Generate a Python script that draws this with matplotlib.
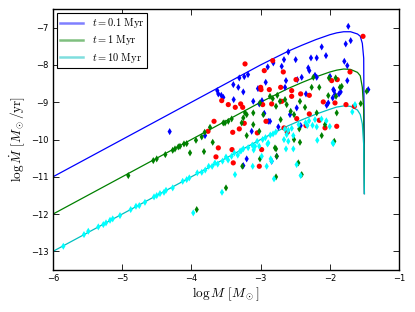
import matplotlib
matplotlib.use("Agg")
import matplotlib.pyplot as plt

plt.rcParams['mathtext.fontset'] = 'cm'

# ---- model curves ----
line_x = [-6.0, -3.0, -2.6, -2.4, -2.2, -2.0, -1.9, -1.8, -1.7, -1.6, -1.56, -1.53, -1.51, -1.50]
line_blue = [-11.0, -8.0, -7.63, -7.47, -7.32, -7.19, -7.14, -7.11, -7.11, -7.17, -7.23, -7.42, -7.82, -11.45]
line_green = [-12.0, -9.0, -8.63, -8.47, -8.32, -8.19, -8.14, -8.11, -8.12, -8.20, -8.29, -8.60, -9.20, -11.45]
line_cyan = [-13.0, -10.0, -9.63, -9.47, -9.32, -9.19, -9.13, -9.10, -9.11, -9.21, -9.33, -9.58, -10.15, -11.45]
labels = [r'$t=0.1\ \mathrm{Myr}$', r'$t=1\ \mathrm{Myr}$', r'$t=10\ \mathrm{Myr}$']

# ---- observed points ----
blue_x = [-4.314, -3.626, -3.611, -3.568, -3.539, -3.394, -3.322, -3.308, -3.250, -3.236, -3.182, -3.389,
          -3.106, -3.019, -2.980, -2.926, -2.897, -2.816, -2.947, -2.889, -3.038, -2.117, -2.600, -2.662,
          -2.695, -2.493, -2.272, -2.189, -2.055, -2.311, -2.296, -2.406, -2.470, -2.189, -2.214, -2.633,
          -2.647, -1.925, -1.958, -2.344, -1.949, -1.843, -2.022, -2.045, -2.478, -2.575, -1.733, -1.698,
          -1.770, -1.790, -1.747, -1.747, -1.939, -1.867, -1.444, -1.997, -3.803, -3.129, -2.864, -3.201,
          -2.840, -2.744, -2.421, -3.250, -2.767]
blue_y = [-9.788, -8.689, -8.777, -8.815, -8.869, -8.528, -8.601, -8.349, -8.724, -8.314, -8.260, -8.930,
          -8.976, -9.046, -8.957, -8.466, -8.054, -7.946, -9.298, -9.512, -8.635, -7.517, -7.651, -7.858,
          -8.038, -7.858, -7.812, -7.812, -7.751, -8.080, -8.153, -8.332, -8.394, -8.332, -8.279, -8.421,
          -8.601, -8.796, -8.885, -8.777, -8.662, -8.724, -9.019, -9.083, -9.153, -9.332, -6.965, -7.349,
          -7.437, -7.903, -8.019, -8.421, -8.689, -8.777, -8.662, -8.306, -9.895, -9.780, -9.512, -10.520,
          -10.584, -9.662, -9.627, -10.700, -10.450]

red_x = [-3.225, -2.947, -2.999, -2.994, -2.874, -3.562, -3.467, -3.366, -3.288, -3.259, -2.970, -3.673,
         -3.236, -2.840, -2.825, -2.672, -2.488, -1.973, -1.892, -2.710, -2.551, -2.551, -2.421, -2.296,
         -2.094, -1.925, -2.695, -2.296, -2.478, -1.520, -1.708, -1.766, -1.646, -1.900, -3.403, -3.308,
         -3.048, -2.922, -3.611, -3.413, -3.645, -3.395, -2.985, -3.019, -2.662, -2.614, -2.344, -2.069,
         -2.152, -3.760]
red_y = [-7.973, -8.153, -8.601, -8.662, -8.662, -8.957, -9.064, -9.137, -9.046, -9.137, -9.064, -9.512,
         -9.566, -9.046, -7.885, -8.188, -8.394, -8.421, -8.394, -8.601, -8.689, -8.842, -8.777, -8.815,
         -8.992, -9.019, -8.976, -9.314, -9.440, -7.233, -8.188, -9.064, -9.110, -9.646, -9.807, -9.716,
         -9.823, -9.512, -10.225, -10.271, -10.466, -10.627, -10.271, -10.718, -9.689, -9.807, -9.627, -9.689,
         -9.485, -9.780]

green_x = [-4.912, -4.551, -4.501, -4.377, -4.270, -4.237, -4.189, -4.165, -4.107, -4.068, -4.020, -3.934,
           -3.851, -3.818, -3.808, -3.923, -2.825, -3.106, -2.961, -3.201, -2.238, -2.012, -2.262, -2.152,
           -2.022, -1.853, -2.759, -2.720, -2.623, -2.647, -2.777, -2.358, -2.431, -2.565, -2.517, -2.189,
           -1.900, -2.710, -1.828, -1.910, -1.553, -1.467, -1.915, -1.935, -3.514, -3.273, -3.201, -3.106,
           -3.019, -3.264, -3.009, -2.792, -3.500, -3.692, -2.441, -2.517, -2.431, -2.777, -2.767, -2.455,
           -2.406, -2.777, -2.117, -2.069, -3.731, -3.539, -3.467, -3.418, -3.250, -3.225, -3.009, -2.864]
green_y = [-10.968, -10.566, -10.520, -10.405, -10.290, -10.252, -10.198, -10.182, -10.118, -10.110, -10.359, -10.021,
           -9.930, -10.324, -9.807, -11.879, -8.903, -9.287, -9.332, -9.332, -8.332, -8.349, -8.601, -8.601,
           -8.823, -8.601, -8.815, -8.976, -9.064, -8.930, -9.110, -9.137, -8.976, -9.244, -9.332, -9.287,
           -9.287, -9.466, -8.574, -8.842, -9.038, -8.708, -8.349, -10.048, -9.555, -9.555, -9.895, -9.601,
           -9.780, -10.718, -10.520, -10.225, -11.298, -10.075, -9.716, -10.003, -10.075, -10.252, -10.450, -10.627,
           -10.941, -11.003, -9.895, -9.601, -9.673, -9.555, -9.512, -9.448, -9.421, -9.287, -9.019, -8.842]

cyan_x = [-5.851, -5.552, -5.490, -5.345, -5.273, -5.234, -5.176, -5.137, -5.032, -4.877, -4.801, -4.753,
          -4.671, -4.540, -4.501, -4.454, -4.396, -4.367, -4.270, -4.126, -4.068, -4.030, -3.915, -3.973,
          -3.85, -3.80, -3.75, -3.70, -3.66, -3.62, -3.55, -3.50, -3.47, -3.42, -3.38, -3.33, -3.28, -3.25,
          -3.18, -3.12, -3.10, -3.05, -3.02, -2.97, -2.93, -2.90, -2.86, -2.82, -2.78,
          -3.370, -3.114, -2.912, -2.806, -3.558, -3.298, -3.081, -2.889, -2.984, -2.854, -2.623, -2.662,
          -2.600, -2.527, -2.633, -2.527, -2.840, -2.479, -2.421, -2.181, -1.949, -2.189, -2.325, -2.214,
          -1.675, -1.636, -1.958, -2.35, -2.30, -2.25, -2.45, -2.55, -2.60, -2.12, -2.05, -2.00, -2.65]
cyan_y = [-12.863, -12.550, -12.461, -12.343, -12.282, -12.236, -12.166, -12.129, -12.040, -11.879, -11.791, -11.772,
          -11.684, -11.539, -11.504, -11.450, -11.416, -11.362, -11.298, -11.121, -11.075, -11.029, -10.895, -11.968,
          -10.88, -10.82, -10.72, -10.72, -10.63, -10.66, -10.58, -10.47, -10.55, -10.45, -10.36, -10.42, -10.30, -10.25,
          -10.22, -10.15, -10.28, -10.05, -10.18, -10.00, -9.95, -10.12, -9.88, -9.85, -9.80,
          -10.941, -10.718, -10.718, -11.056, -11.416, -10.316, -10.182, -10.091, -10.450, -10.520, -9.869, -10.003,
          -10.048, -9.895, -10.252, -10.252, -10.584, -10.673, -10.968, -10.021, -10.110, -9.662, -9.627, -9.466,
          -9.260, -9.064, -10.091, -9.55, -9.50, -9.62, -9.60, -9.70, -9.75, -9.45, -9.50, -9.65, -9.72]

fig = plt.figure(figsize=(4.15, 3.12), dpi=100)
ax = fig.add_axes([53/415, 1-270/312, (399-53)/415, (270-9)/312])

ax.plot(line_x, line_blue, color='b', lw=0.9, label=labels[0], zorder=2)
ax.plot(line_x, line_green, color='g', lw=0.9, label=labels[1], zorder=2)
ax.plot(line_x, line_cyan, color='c', lw=0.9, label=labels[2], zorder=2)

ax.scatter(blue_x, blue_y, marker='d', s=13, c='b', edgecolors='none', zorder=3)
ax.scatter(red_x, red_y, marker='o', s=14, c='r', edgecolors='none', zorder=3)
ax.scatter(green_x, green_y, marker='d', s=13, c='g', edgecolors='none', zorder=3)
ax.scatter(cyan_x, cyan_y, marker='d', s=13, c='cyan', edgecolors='none', zorder=3)

ax.set_xlim(-6, -1)
ax.set_ylim(-13.5, -6.5)
ax.set_xticks([-6, -5, -4, -3, -2, -1])
ax.set_yticks([-13, -12, -11, -10, -9, -8, -7])
ax.tick_params(direction='in', top=True, right=True, labelsize=6, length=4, width=0.6, pad=3)
for s in ax.spines.values():
    s.set_linewidth(1.0)

ax.set_xlabel(r'$\log M\ [M_\odot]$', fontsize=9.5, labelpad=2)
ax.set_ylabel(r'$\log \dot{M}\ [M_\odot/\mathrm{yr}]$', fontsize=9.5, labelpad=3)

leg = ax.legend(loc='upper left', fontsize=7.5, fancybox=False, framealpha=1,
                edgecolor='black', handlelength=2.2, borderaxespad=0.4, labelspacing=0.3,
                borderpad=0.3)
leg.get_frame().set_linewidth(0.8)
for h in leg.get_lines():
    h.set_linewidth(1.8)
    h.set_alpha(0.5)

fig.savefig('out.png', dpi=100)
